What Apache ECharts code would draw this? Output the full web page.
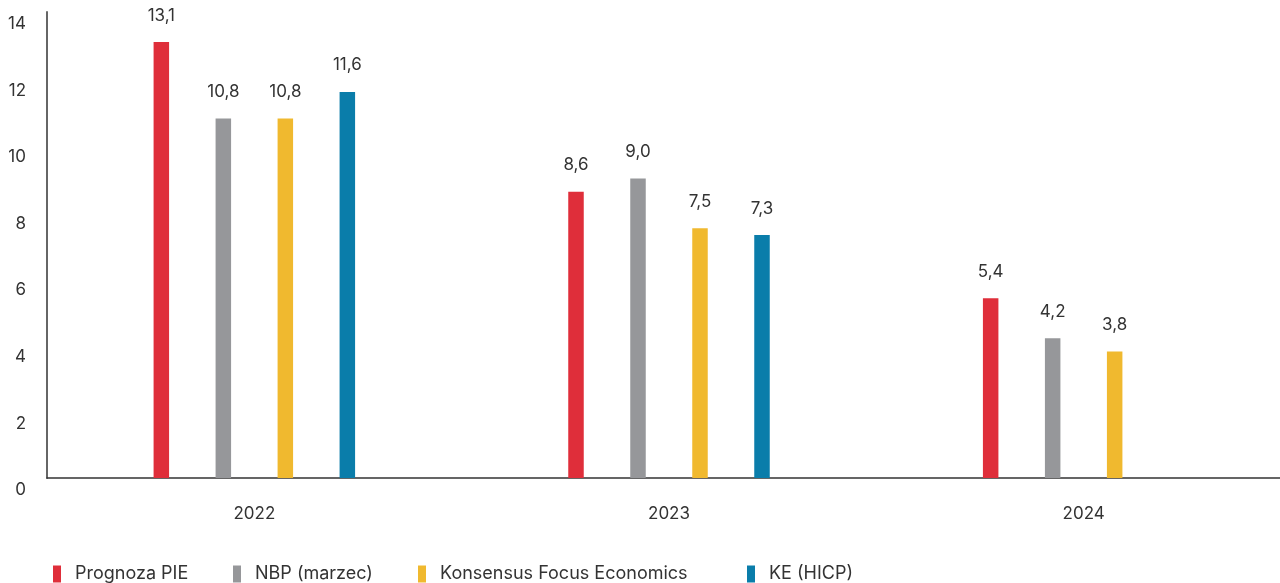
<!DOCTYPE html>
<html>
<head>
<meta charset="utf-8">
<script src="https://cdn.jsdelivr.net/npm/echarts@6/dist/echarts.min.js"></script>
<style>
html,body{margin:0;padding:0;background:#fff;overflow:hidden;}
#chart{width:1300px;height:583px;}
</style>
</head>
<body>
<div id="chart"></div>
<script>
const categories = ['2022', '2023', '2024'];
const seriesNames = ['Prognoza PIE', 'NBP (marzec)', 'Konsensus Focus Economics', 'KE (HICP)'];
const prognozaPIE = [13.1, 8.6, 5.4];
const nbpMarzec = [10.8, 9.0, 4.2];
const konsensusFE = [10.8, 7.5, 3.8];
const keHICP = [11.6, 7.3, null];
const yTicks = [0, 2, 4, 6, 8, 10, 12, 14];

const colors = ['#DF2E3A', '#96979A', '#F0B92F', '#0A7DAA'];
const font = 'Inter, "Open Sans", sans-serif';
const allValues = [prognozaPIE, nbpMarzec, konsensusFE, keHICP];
const legendLefts = [53, 233, 418, 747];

const chart = echarts.init(document.getElementById('chart'));
chart.setOption({
  animation: false,
  color: colors,
  textStyle: { fontFamily: font },
  grid: { left: 47, top: 12, width: 1244, height: 466, containLabel: false },
  legend: seriesNames.map((name, i) => ({
    left: legendLefts[i], top: 565, padding: 0,
    itemWidth: 8, itemHeight: 17,
    icon: 'rect',
    textStyle: { fontSize: 18, color: '#333', fontFamily: font, padding: [0, 0, 0, 9] },
    data: [name]
  })),
  xAxis: {
    type: 'category',
    data: categories,
    axisLine: { lineStyle: { color: '#333', width: 1.5 } },
    axisTick: { show: false },
    axisLabel: { fontSize: 17, color: '#333', margin: 27, fontFamily: font }
  },
  yAxis: {
    type: 'value',
    min: yTicks[0], max: yTicks[yTicks.length - 1], interval: 2,
    axisLine: { show: true, lineStyle: { color: '#666', width: 2 } },
    axisTick: { show: false },
    splitLine: { show: false },
    axisLabel: { fontSize: 17, color: '#333', margin: 21, verticalAlign: 'top', lineHeight: 24, fontFamily: font }
  },
  series: seriesNames.map((name, i) => ({
    name: name,
    type: 'bar',
    data: allValues[i].map(v => v === null ? '-' : v),
    barWidth: 15.5,
    barGap: '300%',
    itemStyle: { color: colors[i] },
    label: {
      show: true, position: 'top', distance: 18,
      fontSize: 17, color: '#333', fontFamily: font,
      formatter: p => Number(p.value).toFixed(1).replace('.', ',')
    }
  }))
});
</script>
</body>
</html>
